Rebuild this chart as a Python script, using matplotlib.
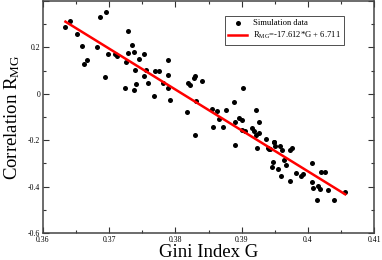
import matplotlib
matplotlib.use("Agg")
import matplotlib.pyplot as plt
import numpy as np
from matplotlib.ticker import MultipleLocator

plt.rcParams['font.family'] = ['Liberation Serif', 'DejaVu Serif']
plt.rcParams['mathtext.fontset'] = 'custom'
plt.rcParams['mathtext.rm'] = 'Liberation Serif'
plt.rcParams['mathtext.it'] = 'Liberation Serif:italic'

gini = [0.36339, 0.36409, 0.36511, 0.36586, 0.36626, 0.36667, 0.36823, 0.36864,
        0.36950, 0.36939, 0.36980, 0.37083, 0.37118, 0.37253, 0.37280, 0.37280,
        0.37341, 0.37368, 0.37391, 0.37444, 0.37520, 0.37533, 0.37586, 0.37232,
        0.37368, 0.37409, 0.37558, 0.37689, 0.37747, 0.37818, 0.37894, 0.37889,
        0.37889, 0.37671, 0.37917, 0.38177, 0.38186, 0.38217, 0.38277, 0.38303,
        0.38315, 0.38404, 0.39023, 0.38550, 0.38626, 0.38770, 0.38883, 0.38652,
        0.38899, 0.38959, 0.39000, 0.39212, 0.39265, 0.38565, 0.38720, 0.38303,
        0.38894, 0.39005, 0.39056, 0.39159, 0.39189, 0.39265, 0.39368, 0.39485,
        0.39485, 0.39212, 0.39235, 0.39409, 0.39399, 0.39435, 0.39511, 0.39586,
        0.39612, 0.39738, 0.39762, 0.39480, 0.39462, 0.39545, 0.39644, 0.39671,
        0.39601, 0.39735, 0.39818, 0.39894, 0.39920, 0.40068, 0.40197, 0.40258,
        0.40058, 0.40086, 0.40156, 0.40185, 0.40308, 0.40136, 0.40389, 0.40565]

corr = [0.287, 0.313, 0.259, 0.208, 0.127, 0.144, 0.202, 0.330, 0.354, 0.073,
        0.170, 0.172, 0.163, 0.139, 0.269, 0.177, 0.209, 0.180, 0.104, 0.150,
        0.171, 0.076, 0.046, 0.023, 0.016, 0.044, 0.103, 0.097, 0.097, 0.047,
        0.147, 0.080, 0.023, -0.008, -0.028, -0.080, 0.048, 0.037, 0.066, 0.075,
        -0.030, 0.056, 0.023, -0.065, -0.073, -0.070, -0.037, -0.109, -0.120,
        -0.105, -0.113, -0.068, -0.123, -0.144, -0.144, -0.177, -0.220, -0.155,
        -0.160, -0.148, -0.160, -0.168, -0.196, -0.207, -0.209, -0.178, -0.234,
        -0.238, -0.232, -0.240, -0.224, -0.227, -0.241, -0.241, -0.233, -0.293,
        -0.315, -0.326, -0.287, -0.305, -0.353, -0.377, -0.341, -0.353, -0.344,
        -0.297, -0.337, -0.337, -0.381, -0.405, -0.398, -0.411, -0.416, -0.458,
        -0.458, -0.422]

slope = -17.612
intercept = 6.711
fit_range = [0.36339, 0.40565]

x_ticks = [0.36, 0.37, 0.38, 0.39, 0.40, 0.41]
x_ticklabels = ['0.36', '0.37', '0.38', '0.39', '0.4', '0.41']
y_ticks = [-0.6, -0.4, -0.2, 0, 0.2, 0.4]
y_ticklabels = ['-0.6', '-0.4', '-0.2', '0', '0.2', '']

fig = plt.figure(figsize=(3.82, 2.60), dpi=100)
ax = fig.add_axes([43/382, 1-233/260, (374-43)/382, (233-1)/260])

ax.scatter(gini, corr, s=13, color='black', zorder=3, linewidths=0,
           label='Simulation data')
gx = np.array(fit_range)
ax.plot(gx, slope*gx + intercept, color='#ff0000', lw=1.8, zorder=4,
        label=r'R$_{\rm MG}$=-17.612*G + 6.711')

ax.set_xlim(0.36, 0.41)
ax.set_ylim(-0.6, 0.4)
ax.xaxis.set_minor_locator(MultipleLocator(0.005))
ax.yaxis.set_minor_locator(MultipleLocator(0.1))
ax.set_xticks(x_ticks)
ax.set_xticklabels(x_ticklabels)
ax.set_yticks(y_ticks)
ax.set_yticklabels(y_ticklabels)

ax.tick_params(which='both', direction='in', top=True, right=True,
               labelsize=5.6, color='#333333', width=0.8, pad=2)
ax.tick_params(which='major', length=4)
ax.tick_params(which='minor', length=2.5)
for s in ax.spines.values():
    s.set_linewidth(1.1)
    s.set_color('#444444')

ax.set_xlabel('Gini Index G', fontsize=13.5, labelpad=0)
ax.set_ylabel(r'Correlation R$_{\rm MG}$', fontsize=13.5, labelpad=4)

leg = ax.legend(loc='upper left', bbox_to_anchor=(182/331, 1-15/232),
                fontsize=6.2, frameon=True, fancybox=False, borderpad=0.4,
                handlelength=2.2, handletextpad=0.6, labelspacing=0.3,
                borderaxespad=0)
leg.get_frame().set_edgecolor('black')
leg.get_frame().set_linewidth(0.6)

fig.savefig('out.png', dpi=100)
